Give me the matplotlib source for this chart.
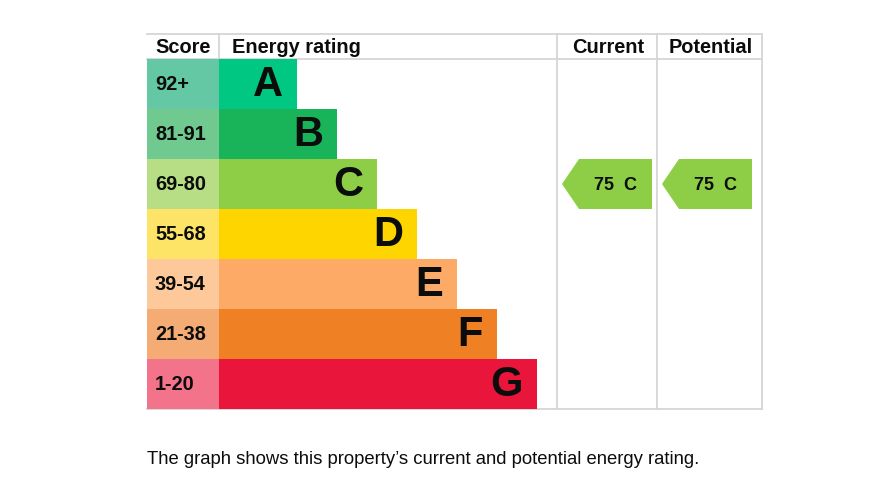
import matplotlib
matplotlib.use("Agg")
import matplotlib.pyplot as plt
from matplotlib.patches import Polygon

# ---- data ----
bands = ["A", "B", "C", "D", "E", "F", "G"]
score_ranges = ["92+", "81-91", "69-80", "55-68", "39-54", "21-38", "1-20"]
band_colors = ["#00c781", "#19b459", "#8dce46", "#ffd500", "#fcaa65", "#ef8023", "#e9153b"]
score_colors = ["#64c8a5", "#70c98e", "#b7de85", "#fee466", "#fdc89a", "#f4ab74", "#f2738a"]
current_score = 75
current_band = "C"
potential_score = 75
potential_band = "C"
headers = ["Score", "Energy rating", "Current", "Potential"]
caption = "The graph shows this property\u2019s current and potential energy rating."

W, H = 893, 503
fig = plt.figure(figsize=(W / 100, H / 100), dpi=100)
ax = fig.add_axes([0, 0, 1, 1])
ax.set_xlim(0, W)
ax.set_ylim(H, 0)
ax.axis("off")

FONT = "Liberation Sans"
x_left, x_score, x_cur, x_pot, x_right = 147, 219, 557, 657, 762
y_top, y_head, row_h = 34, 59, 50
grid_c = "#d6d6d6"
lw = 1.3

n = len(bands)
y_bottom = y_head + n * row_h
centers = [y_head + row_h * (i + 0.5) for i in range(n)]

# score cells
ax.barh(centers, [x_score - x_left] * n, left=x_left, height=row_h,
        color=score_colors, edgecolor="none", zorder=2)
# rating bars
widths = [78 + 40 * i for i in range(n)]
ax.barh(centers, widths, left=x_score, height=row_h,
        color=band_colors, edgecolor="none", zorder=2)

for i in range(n):
    ax.text(x_left + 8, centers[i], score_ranges[i], ha="left", va="center",
            fontsize=14.3, fontweight="bold", family=FONT, color="#0b0c0c", zorder=3)
    ax.text(x_score + widths[i] - 14, centers[i] + 1, bands[i], ha="right", va="center",
            fontsize=30, fontweight="bold", family=FONT, color="#0b0c0c", zorder=3)

# grid lines
ax.plot([x_left, x_right], [y_top, y_top], color=grid_c, lw=lw, zorder=1)
ax.plot([x_left, x_right], [y_head, y_head], color=grid_c, lw=lw, zorder=1)
ax.plot([x_left, x_right], [y_bottom, y_bottom], color=grid_c, lw=lw, zorder=1)
ax.plot([x_score, x_score], [y_top, y_head], color=grid_c, lw=lw, zorder=1)
for xv in (x_cur, x_pot, x_right):
    ax.plot([xv, xv], [y_top, y_bottom], color=grid_c, lw=lw, zorder=1)

# headers
hy = (y_top + y_head) / 2 + 1
hfs = 14.4
ax.text(x_left + 8, hy, headers[0], ha="left", va="center", fontsize=hfs,
        fontweight="bold", family=FONT, color="#0b0c0c")
ax.text(x_score + 13, hy, headers[1], ha="left", va="center", fontsize=hfs,
        fontweight="bold", family=FONT, color="#0b0c0c")
ax.text((x_cur + x_pot) / 2 + 1, hy, headers[2], ha="center", va="center", fontsize=hfs,
        fontweight="bold", family=FONT, color="#0b0c0c")
ax.text((x_pot + x_right) / 2 + 1, hy, headers[3], ha="center", va="center", fontsize=hfs,
        fontweight="bold", family=FONT, color="#0b0c0c")

# arrows
def arrow(x0, score, band):
    i = bands.index(band)
    yt, yb = y_head + row_h * i, y_head + row_h * (i + 1)
    yc = (yt + yb) / 2
    tip, body, right = x0 + 5, x0 + 22, x0 + 95
    poly = Polygon([(tip, yc), (body, yt), (right, yt), (right, yb), (body, yb)],
                   closed=True, facecolor=band_colors[i], edgecolor="none", zorder=3)
    ax.add_patch(poly)
    ax.text((body + right) / 2, yc + 1, f"{score}  {band}", ha="center", va="center",
            fontsize=13, fontweight="bold", family=FONT, color="#0b0c0c", zorder=4)

arrow(x_cur, current_score, current_band)
arrow(x_pot, potential_score, potential_band)

ax.text(x_left, 459, caption, ha="left", va="center", fontsize=13.3,
        family=FONT, color="#0b0c0c")

fig.savefig("out.png", dpi=100)
